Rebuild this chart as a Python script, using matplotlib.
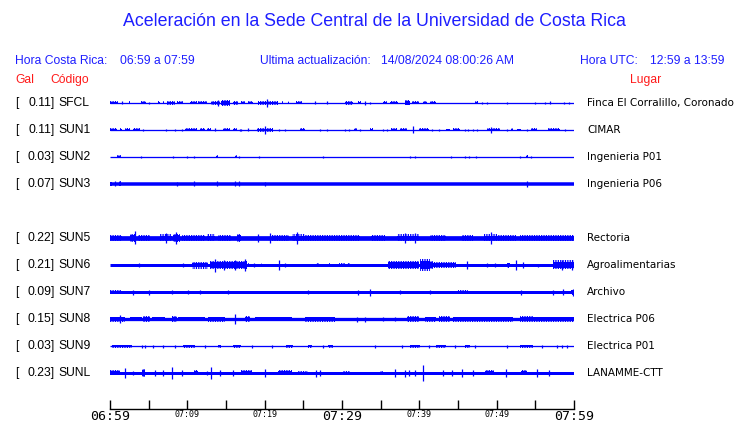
import matplotlib
matplotlib.use("Agg")
import matplotlib.pyplot as plt

# estaciones (fila 4 queda vacia)
codes = ["SFCL", "SUN1", "SUN2", "SUN3", "SUN5", "SUN6", "SUN7", "SUN8", "SUN9", "SUNL"]
gal = ["0.11", "0.11", "0.03", "0.07", "0.22", "0.21", "0.09", "0.15", "0.03", "0.23"]
places = ["Finca El Corralillo, Coronado", "CIMAR", "Ingenieria P01", "Ingenieria P06",
          "Rectoria", "Agroalimentarias", "Archivo", "Electrica P06", "Electrica P01",
          "LANAMME-CTT"]
rows = [0, 1, 2, 3, 5, 6, 7, 8, 9, 10]

# grosor del trazo en reposo (px)
base_px = [1, 1, 1, 3.5, 4.7, 3, 3, 3.3, 1, 3]

# eventos: (minuto inicio, minuto fin, media amplitud px)
sfcl_ev = [(0, 1, 1.5), (1.6, 1.6, 1.5), (2.5, 2.6, 1.5), (4.0, 4.6, 1.5), (5.0, 5.0, 1),
           (6.2, 6.5, 1.5), (6.9, 7.0, 1.5), (7.4, 8.4, 2), (8.6, 9.4, 1.5), (10.3, 11.2, 1.5),
           (11.4, 12.5, 1.5), (13.1, 14.2, 2), (14.0, 14.0, 3), (14.4, 15.5, 3), (15.9, 16.6, 2),
           (17.0, 17.5, 1.5), (17.9, 18.5, 1.5), (19.1, 21.7, 2), (20.3, 20.3, 4),
           (22.2, 22.4, 1.5), (23.0, 23.2, 1.5), (24.0, 24.8, 1.5), (26.5, 26.5, 1.5),
           (28.0, 28.0, 1.5), (30.4, 31.4, 2), (32.1, 32.5, 1.5), (33.0, 33.0, 2), (33.6, 33.6, 1),
           (35.3, 35.8, 1.5), (36.2, 37.2, 1.5), (38.1, 38.8, 2.5), (39.0, 39.9, 1.5),
           (40.5, 41.0, 1.5), (41.4, 42.2, 1.5), (47.2, 47.6, 1.5), (48.1, 48.1, 1), (48.7, 48.7, 1),
           (51.3, 51.3, 1), (54.9, 54.9, 1), (56.2, 56.2, 1), (56.9, 56.9, 1.5), (58.7, 58.7, 1),
           (59.4, 59.4, 1)]
sun1_ev = [(0, 0.9, 1.5), (1.3, 1.5, 1.5), (1.9, 2.6, 1.5), (3.0, 3.9, 1.5), (4.3, 4.3, 1),
           (7.3, 7.3, 1), (8.4, 8.4, 1), (9.3, 9.3, 1), (9.7, 11.2, 1.5), (11.6, 12.3, 1.5),
           (12.5, 13.1, 1.5), (13.6, 13.6, 1.5), (14.6, 15.5, 1.5), (15.9, 16.4, 1.5),
           (16.8, 16.8, 1), (17.0, 17.0, 1), (17.9, 17.9, 1.5), (19.0, 21.1, 2), (20.1, 20.1, 4),
           (21.8, 21.8, 1), (22.6, 22.6, 1), (24.6, 25.2, 1.5), (27.1, 27.1, 1), (28.0, 28.0, 1),
           (30.4, 30.4, 1), (30.9, 30.9, 1), (31.5, 31.9, 1.5), (32.3, 32.3, 1), (33.6, 34.0, 1.5),
           (35.3, 35.3, 1), (35.8, 35.8, 1), (36.4, 37.1, 1.5), (37.5, 38.4, 1.5), (39.2, 39.2, 3.5),
           (39.9, 41.2, 1.5), (41.6, 41.6, 1), (42.6, 42.6, 1), (43.5, 44.0, 1), (44.4, 45.3, 1.5),
           (45.9, 45.9, 1), (46.3, 46.3, 1), (47.0, 47.0, 1), (47.5, 47.5, 1), (48.7, 50.4, 1.5),
           (49.3, 49.3, 3), (51.3, 51.3, 1), (51.9, 52.1, 1.5), (52.6, 53.2, 1), (53.9, 53.9, 1),
           (54.5, 55.2, 1.5), (56.7, 58.2, 1.5), (58.8, 58.8, 1)]
sun2_ev = [(0.9, 1.4, 1.5), (4.0, 4.0, 1), (8.2, 8.2, 1), (10.0, 10.0, 1), (10.8, 10.8, 1),
           (13.7, 14.0, 1.5), (16.2, 16.4, 1.5), (16.7, 16.7, 1), (19.3, 19.3, 1), (27.6, 27.6, 1),
           (38.8, 38.8, 1), (39.5, 39.5, 1), (42.5, 42.6, 1.5), (44.1, 44.1, 1), (45.9, 45.9, 1),
           (46.4, 46.4, 1), (47.3, 47.3, 1), (53.0, 53.0, 1), (53.8, 54.0, 1.5), (54.4, 54.4, 1)]
sun3_ev = [(0, 0.3, 2.2), (0.6, 0.6, 2.5), (1.1, 1.4, 2.5), (8.6, 8.6, 2), (10.8, 10.8, 2.5),
           (13.9, 13.9, 2.5), (16.2, 16.2, 2.5), (16.7, 16.7, 2.5), (20.1, 20.1, 2),
           (53.9, 53.9, 3)]
sun5_ev = [(0, 1.5, 3), (2.6, 3.4, 4), (3.2, 3.2, 6.5), (3.6, 5.2, 3), (6.5, 8.0, 3.5),
           (7.2, 7.2, 5), (8.2, 9.0, 4), (8.5, 8.5, 6), (9.3, 12.3, 3), (12.5, 13.6, 3.5),
           (14.0, 15.7, 3), (16.4, 17.0, 4), (19.2, 19.2, 4), (20.7, 20.7, 5), (20.9, 23.1, 3),
           (23.5, 25.2, 3.5), (24.2, 24.2, 6), (25.2, 30.4, 3), (30.4, 32.3, 3), (33.8, 35.6, 3),
           (37.1, 39.9, 3.5), (38.1, 38.1, 5), (39.4, 39.4, 5), (41.4, 43.5, 3), (45.5, 47.0, 3),
           (48.3, 50.0, 3.5), (49.3, 49.3, 6), (50.0, 52.5, 3), (53.0, 60, 3)]
sun6_ev = [(3.7, 3.7, 2), (9.5, 9.5, 2), (10.6, 12.7, 3.5), (12.9, 14.2, 4), (13.6, 13.6, 6.5),
           (14.2, 17.7, 4), (14.7, 14.7, 5), (16.2, 16.2, 5.5), (17.4, 17.4, 6),
           (17.9, 18.0, 2), (18.6, 18.6, 2), (19.5, 19.6, 2), (21.8, 21.8, 5), (22.6, 22.6, 2),
           (26.7, 27.0, 2), (28.3, 28.5, 2), (29.6, 30.4, 2), (30.6, 31.0, 2),
           (36.0, 39.9, 4), (40.1, 41.4, 6), (41.4, 41.8, 4), (41.8, 44.8, 3), (46.1, 46.1, 4),
           (48.7, 48.7, 2), (49.8, 49.8, 2), (51.3, 51.7, 2.5), (52.5, 52.5, 5), (53.4, 53.4, 3),
           (55.4, 55.4, 1.5), (57.3, 60, 4.5), (58.5, 58.5, 5.5), (59.8, 59.8, 5.5)]
sun7_ev = [(0, 1.5, 2), (3.0, 3.0, 2.5), (5.0, 5.0, 2.5), (8.0, 8.0, 2), (10.1, 10.1, 2),
           (11.6, 11.6, 2), (15.3, 15.3, 2), (25.6, 25.6, 2), (32.1, 32.1, 2.5), (33.6, 33.6, 3.5),
           (37.5, 37.5, 2), (41.4, 41.4, 2), (45.0, 46.3, 2), (53.2, 53.2, 2.5), (57.3, 57.3, 2.5),
           (58.6, 58.6, 3), (59.6, 60, 2.5), (59.9, 59.9, 3.5)]
sun8_ev = [(0, 1.9, 2.5), (1.3, 1.3, 4), (2.6, 4.1, 2), (4.3, 5.2, 3), (5.4, 7.1, 2),
           (8.0, 8.6, 3), (8.8, 12.3, 2), (12.7, 14.9, 2.5), (16.2, 16.2, 5), (17.5, 18.1, 3),
           (18.8, 23.5, 2), (25.2, 29.1, 2.5), (31.9, 31.9, 2.5), (33.0, 33.0, 2.5),
           (35.3, 35.3, 2), (36.9, 36.9, 2), (38.4, 39.9, 3), (40.7, 42.2, 2.5), (42.5, 44.0, 3),
           (44.4, 52.1, 2.5), (53.0, 54.7, 3), (54.7, 60, 2.5)]
sun9_ev = [(0.2, 2.8, 1.5), (4.1, 4.1, 1.5), (4.5, 4.5, 1.5), (5.6, 5.6, 1.5), (6.9, 6.9, 1.5),
           (8.4, 8.4, 1.5), (9.5, 11.0, 1.5), (12.3, 12.3, 1.5), (14.0, 14.4, 1.5),
           (15.9, 17.0, 1.5), (18.3, 18.3, 1.5), (20.9, 20.9, 1.5), (22.8, 23.7, 1.5),
           (25.6, 26.1, 1.5), (27.6, 27.6, 1.5), (28.2, 28.9, 1.5), (34.3, 34.3, 1.5),
           (37.7, 37.7, 1.5), (38.8, 40.1, 1.5), (41.2, 41.2, 1.5), (42.2, 43.5, 1.5),
           (44.6, 44.6, 1.5), (45.9, 46.6, 1.5), (47.2, 47.2, 1.5), (51.3, 51.3, 1.5),
           (53.0, 54.7, 1.5), (55.8, 55.8, 1.5), (57.8, 57.8, 1.5), (58.4, 58.4, 1.5),
           (59.1, 59.1, 1.5)]
sunl_ev = [(0, 1.3, 2.5), (1.9, 1.9, 5), (3.0, 3.0, 2), (4.1, 4.5, 4), (5.8, 5.8, 3),
           (6.9, 6.9, 2.5), (8.0, 8.0, 6), (9.3, 9.3, 2.5), (10.8, 11.4, 2.5), (12.5, 12.5, 2),
           (13.1, 13.1, 6), (14.2, 14.2, 3), (15.9, 15.9, 3), (17.0, 18.3, 2.5), (20.0, 20.0, 4),
           (21.7, 23.5, 2.5), (24.3, 25.6, 2), (26.7, 26.7, 3.5), (27.2, 27.2, 3),
           (30.1, 31.0, 2), (34.9, 35.3, 2), (36.9, 36.9, 4), (38.1, 38.1, 3.5), (38.6, 38.6, 2.5),
           (39.4, 39.4, 2.5), (40.5, 40.5, 8), (43.1, 43.1, 3), (44.2, 44.2, 3), (45.5, 45.5, 4.5),
           (47.0, 47.0, 3), (48.5, 49.6, 2.5), (51.2, 51.2, 4), (53.2, 53.9, 2.5), (55.2, 55.2, 4),
           (56.8, 56.8, 2.5)]
events = [sfcl_ev, sun1_ev, sun2_ev, sun3_ev, sun5_ev, sun6_ev, sun7_ev, sun8_ev, sun9_ev, sunl_ev]

tick_min = list(range(0, 61, 5))
tick_lab = {0: "06:59", 10: "07:09", 20: "07:19", 30: "07:29", 40: "07:39", 50: "07:49", 60: "07:59"}

BLUE = "#0000ff"
TBLUE = "#1e1eff"
RED = "#ff1a1a"
W, H = 740, 423
ROW_PX = 27.0  # separacion entre trazas


def fx(px):
    return px / W


def fy(py):
    return 1 - py / H


def main():
    plt.rcParams["hatch.linewidth"] = 0.9
    plt.rcParams["hatch.color"] = BLUE
    fig = plt.figure(figsize=(7.4, 4.23), dpi=100)
    fig.patch.set_facecolor("white")

    ax = fig.add_axes([fx(110), fy(409), 464 / W, (409 - 90) / H])
    ax.set_xlim(0, 60)
    ax.set_ylim((409 - 103) / ROW_PX, (90 - 103) / ROW_PX)

    for r, b, ev in zip(rows, base_px, events):
        ax.hlines(r, 0, 60, color=BLUE, lw=max(b, 1.3) * 0.72, capstyle="butt")
        for t0, t1, h in ev:
            hh = max(h, b / 2) / ROW_PX
            if t1 > t0:
                # nucleo solido y envolvente rayada
                core = max(0.7 * h, b / 2) / ROW_PX
                ax.bar((t0 + t1) / 2, 2 * core, bottom=r - core, width=t1 - t0,
                       color=BLUE, linewidth=0)
                ax.bar((t0 + t1) / 2, 2 * hh, bottom=r - hh, width=t1 - t0,
                       facecolor="none", edgecolor=BLUE, hatch="|||||||", linewidth=0)
            else:
                ax.vlines(t0, r - hh, r + hh, color=BLUE, lw=0.9)

    for s in ["top", "left", "right"]:
        ax.spines[s].set_visible(False)
    ax.spines["bottom"].set_linewidth(1.0)
    ax.set_yticks([])
    ax.set_xticks(tick_min, [tick_lab.get(t, "") for t in tick_min])
    ax.tick_params(axis="x", direction="in", length=6.5, width=1.0, pad=1)
    for t, lab in zip(tick_min, ax.get_xticklabels()):
        lab.set_family("DejaVu Sans Mono")
        lab.set_fontsize(9.5 if t % 30 == 0 else 6)

    # textos
    sans = "Liberation Sans"
    fs = 8.7
    fig.text(fx(374), fy(22), "Aceleración en la Sede Central de la Universidad de Costa Rica",
             color=TBLUE, fontsize=12.8, family=sans, ha="center", va="center")
    hdr = [(15, "Hora Costa Rica:"), (120, "06:59 a 07:59"), (260, "Ultima actualización:"),
           (381, "14/08/2024 08:00:26 AM"), (580, "Hora UTC:"), (650, "12:59 a 13:59")]
    for x, s in hdr:
        fig.text(fx(x), fy(61), s, color=TBLUE, fontsize=fs, family=sans, va="center")
    fig.text(fx(15), fy(80), "Gal", color=RED, fontsize=fs, family=sans, va="center")
    fig.text(fx(50), fy(80), "Código", color=RED, fontsize=fs, family=sans, va="center")
    fig.text(fx(630), fy(80), "Lugar", color=RED, fontsize=fs, family=sans, va="center")

    for r, c, g, p in zip(rows, codes, gal, places):
        y = fy(103 + r * ROW_PX)
        fig.text(fx(15), y, "[", fontsize=fs, family=sans, va="center")
        fig.text(fx(55), y, g + "]", fontsize=fs, family=sans, va="center", ha="right")
        fig.text(fx(58), y, c, fontsize=fs, family=sans, va="center")
        fig.text(fx(587), y, p, fontsize=7.5, family="DejaVu Sans", va="center")

    fig.savefig("out.png", dpi=100)


if __name__ == "__main__":
    main()
